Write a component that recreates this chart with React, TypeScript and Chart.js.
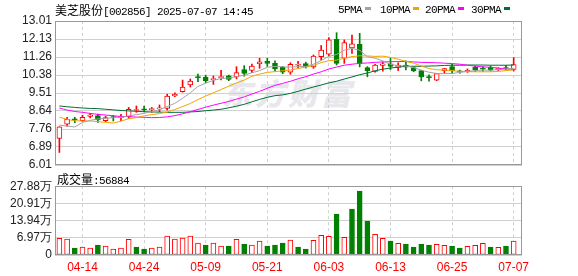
import React, { useEffect, useRef } from "react";
import { Chart, registerables } from "chart.js";

Chart.register(...registerables);

// ---------- data ----------
const dates = [
  "04-09", "04-10", "04-11", "04-14", "04-15", "04-16", "04-17", "04-18", "04-21", "04-22",
  "04-23", "04-24", "04-25", "04-28", "04-29", "04-30", "05-06", "05-07", "05-08", "05-09",
  "05-12", "05-13", "05-14", "05-15", "05-16", "05-19", "05-20", "05-21", "05-22", "05-23",
  "05-26", "05-27", "05-28", "05-29", "05-30", "06-03", "06-04", "06-05", "06-06", "06-09",
  "06-10", "06-11", "06-12", "06-13", "06-16", "06-17", "06-18", "06-19", "06-20", "06-23",
  "06-24", "06-25", "06-26", "06-27", "06-30", "07-01", "07-02", "07-03", "07-04", "07-07",
];
const tickDates = ["04-14", "04-24", "05-09", "05-21", "06-03", "06-13", "06-25", "07-07"];

const open = [
  7.30, 7.99, 8.23, 8.16, 8.37, 8.41, 8.17, 8.34, 8.31, 8.36,
  8.66, 8.74, 8.70, 8.74, 8.76, 9.37, 9.57, 9.90, 10.28, 10.28,
  10.16, 10.26, 10.34, 10.29, 10.65, 10.61, 10.93, 11.05, 10.95, 10.76,
  10.52, 10.86, 10.94, 10.78, 11.27, 11.40, 12.12, 11.20, 11.70, 11.88,
  10.74, 10.56, 10.85, 10.93, 10.75, 10.87, 10.74, 10.60, 10.28, 10.13,
  10.60, 10.79, 10.56, 10.55, 10.77, 10.70, 10.76, 10.64, 10.73, 10.66,
];
const close = [
  7.87, 8.23, 8.21, 8.33, 8.45, 8.20, 8.31, 8.32, 8.33, 8.72,
  8.70, 8.69, 8.72, 8.77, 9.36, 9.45, 9.80, 10.09, 10.26, 10.10,
  10.18, 10.28, 10.17, 10.50, 10.46, 10.82, 11.02, 10.95, 10.68, 10.52,
  10.90, 10.89, 10.78, 11.31, 11.60, 12.09, 10.95, 11.96, 11.90, 10.95,
  10.60, 10.87, 10.93, 10.80, 10.86, 10.76, 10.58, 10.29, 10.26, 10.45,
  10.70, 10.58, 10.54, 10.61, 10.63, 10.67, 10.62, 10.72, 10.70, 10.89,
];
const high = [
  7.87, 8.33, 8.33, 8.43, 8.52, 8.48, 8.39, 8.42, 8.47, 8.81,
  8.88, 8.88, 8.81, 8.93, 9.45, 9.52, 10.14, 10.19, 10.43, 10.38,
  10.34, 10.61, 10.38, 10.79, 10.84, 10.91, 11.20, 11.20, 11.07, 10.80,
  10.98, 11.05, 11.01, 11.36, 11.82, 12.20, 12.44, 12.09, 12.33, 12.41,
  10.79, 10.90, 11.03, 11.20, 10.98, 11.07, 10.78, 10.62, 10.39, 10.46,
  10.71, 10.90, 10.62, 10.68, 10.82, 10.79, 10.83, 10.74, 10.85, 11.23,
];
const low = [
  6.62, 7.90, 8.07, 8.13, 8.30, 8.08, 8.12, 8.15, 8.16, 8.28,
  8.57, 8.60, 8.57, 8.60, 8.68, 9.33, 9.55, 9.80, 10.06, 10.01,
  9.93, 10.14, 10.11, 10.20, 10.33, 10.50, 10.71, 10.80, 10.58, 10.45,
  10.42, 10.74, 10.72, 10.71, 11.11, 11.31, 10.87, 10.95, 11.44, 10.78,
  10.30, 10.52, 10.57, 10.65, 10.60, 10.63, 10.55, 10.10, 10.09, 10.11,
  10.47, 10.46, 10.47, 10.51, 10.55, 10.56, 10.58, 10.60, 10.62, 10.58,
];
const volume = [
  67500, 64700, 28300, 32300, 28300, 40400, 36400, 24200, 28300, 63400,
  32300, 24200, 28300, 32300, 76800, 64700, 68700, 76800, 48500, 40400,
  48500, 36400, 36400, 63400, 44500, 40400, 56600, 36400, 40400, 48500,
  60000, 32300, 24200, 59400, 79600, 75600, 165700, 71500, 185900, 258600,
  137400, 83600, 67500, 56600, 47100, 44500, 32300, 44500, 40400, 43100,
  39200, 36400, 28300, 34900, 39200, 47100, 32300, 31000, 36400, 56884,
];
const ma5 = [
  7.95, 7.90, 7.86, 8.08, 8.18, 8.25, 8.28, 8.31, 8.33, 8.40,
  8.46, 8.52, 8.60, 8.69, 8.85, 9.01, 9.25, 9.52, 9.83, 9.99,
  10.12, 10.22, 10.24, 10.30, 10.38, 10.49, 10.60, 10.76, 10.80, 10.78,
  10.77, 10.79, 10.80, 10.91, 11.09, 11.29, 11.38, 11.59, 11.68, 11.59,
  11.27, 11.20, 11.07, 10.90, 10.84, 10.82, 10.75, 10.62, 10.52, 10.46,
  10.45, 10.46, 10.51, 10.56, 10.60, 10.62, 10.62, 10.65, 10.67, 10.72,
];
const ma10 = [
  8.33, 8.23, 8.16, 8.15, 8.15, 8.12, 8.08, 8.05, 8.14, 8.26,
  8.31, 8.40, 8.46, 8.51, 8.59, 8.71, 8.85, 9.00, 9.19, 9.36,
  9.52, 9.68, 9.84, 10.00, 10.14, 10.32, 10.43, 10.51, 10.55, 10.59,
  10.63, 10.70, 10.77, 10.85, 10.99, 11.08, 11.11, 11.20, 11.28, 11.32,
  11.31, 11.29, 11.30, 11.24, 11.15, 11.05, 10.96, 10.82, 10.70, 10.64,
  10.62, 10.60, 10.56, 10.55, 10.54, 10.54, 10.54, 10.56, 10.60, 10.63,
];
const ma20 = [
  8.78, 8.68, 8.61, 8.57, 8.52, 8.47, 8.44, 8.40, 8.37, 8.36,
  8.34, 8.33, 8.31, 8.32, 8.35, 8.41, 8.50, 8.60, 8.71, 8.82,
  8.92, 9.01, 9.10, 9.21, 9.32, 9.46, 9.59, 9.74, 9.88, 9.98,
  10.08, 10.20, 10.30, 10.43, 10.54, 10.68, 10.77, 10.86, 10.91, 10.95,
  10.97, 11.00, 11.02, 11.03, 11.04, 11.04, 11.02, 11.00, 10.99, 10.98,
  10.96, 10.94, 10.91, 10.86, 10.82, 10.78, 10.76, 10.72, 10.68, 10.66,
];
const ma30 = [
  8.88, 8.84, 8.81, 8.78, 8.76, 8.75, 8.72, 8.69, 8.66, 8.64,
  8.62, 8.60, 8.59, 8.58, 8.57, 8.57, 8.57, 8.59, 8.61, 8.65,
  8.68, 8.72, 8.79, 8.87, 8.96, 9.08, 9.20, 9.30, 9.38, 9.42,
  9.49, 9.59, 9.70, 9.80, 9.90, 10.00, 10.08, 10.19, 10.29, 10.40,
  10.48, 10.59, 10.67, 10.72, 10.77, 10.81, 10.81, 10.81, 10.82, 10.83,
  10.85, 10.86, 10.86, 10.87, 10.87, 10.87, 10.86, 10.86, 10.86, 10.87,
];
const priceTicks = [6.01, 6.89, 7.76, 8.64, 9.51, 10.38, 11.26, 12.13, 13.01];
const volumeTicks = [0, 69700, 139400, 209100, 278800];

const stockName = "美芝股份";
const stockInfo = "[002856] 2025-07-07 14:45";
const volumeName = "成交量";
const volumeInfo = ":56884";
const maNames = ["5PMA", "10PMA", "20PMA", "30PMA"];
const watermark = "东方财富";

// ---------- styles ----------
const RED = "#ff0000";
const GREEN = "#008000";
const MA_COLORS = ["#a3a3a3", "#f2a300", "#ff00ff", "#006f35"];
const GRID = "#d0d0d0";
const FRAME = "#999999";
const X_MIN = -0.57;
const X_MAX = 60.08;
const LEGEND_X = [338, 380, 425, 471];
const LEGEND_MARK_X = [365, 413, 458, 504];

const idx = dates.map((_, i) => i);
const tickIdx = tickDates.map((d) => dates.indexOf(d));

function candleUp(i: number) {
  if (close[i] !== open[i]) return close[i] > open[i];
  return i === 0 || close[i] >= close[i - 1];
}
function volUp(i: number) {
  return i === 0 ? close[0] >= open[0] : close[i] >= close[i - 1];
}

const framePlugin = {
  id: "frame",
  afterDatasetsDraw(chart: any) {
    const { ctx, chartArea: a } = chart;
    ctx.save();
    ctx.strokeStyle = FRAME;
    ctx.lineWidth = 1;
    ctx.strokeRect(
      Math.round(a.left) + 0.5,
      Math.round(a.top) + 0.5,
      Math.round(a.right - a.left) - 1,
      Math.round(a.bottom - a.top) - 1
    );
    ctx.restore();
  },
};

const tickFont = { family: '"Liberation Sans", Arial, sans-serif', size: 12 };

function xScale(showLabels: boolean) {
  return {
    type: "linear",
    min: X_MIN,
    max: X_MAX,
    offset: false,
    afterBuildTicks: (axis: any) => {
      axis.ticks = tickIdx.map((v) => ({ value: v }));
    },
    ticks: {
      display: showLabels,
      autoSkip: false,
      maxRotation: 0,
      padding: 5,
      color: RED,
      font: tickFont,
      callback: (v: any) => dates[v] ?? "",
    },
    grid: { color: GRID, drawTicks: false, lineWidth: 1, offset: false },
    border: { display: false, dash: [3, 3] },
    afterFit: (axis: any) => {
      axis.height = showLabels ? 21 : 0;
    },
  };
}

function yScale(min: number, max: number, ticks: number[], fmt: (v: number) => string) {
  return {
    min,
    max,
    afterBuildTicks: (axis: any) => {
      axis.ticks = ticks.map((v) => ({ value: v }));
    },
    ticks: {
      color: "#222222",
      font: tickFont,
      padding: 3,
      autoSkip: false,
      callback: (v: any) => fmt(Number(v)),
    },
    grid: { color: GRID, drawTicks: false },
    border: { display: false },
    afterFit: (axis: any) => {
      axis.width = 55;
    },
  };
}

export default function App() {
  const priceRef = useRef<HTMLCanvasElement>(null);
  const volRef = useRef<HTMLCanvasElement>(null);

  useEffect(() => {
    const lineSet = (name: string, arr: number[], color: string) => ({
      type: "line",
      label: name,
      data: arr.map((v, i) => ({ x: i, y: v })),
      borderColor: color,
      borderWidth: 1,
      pointRadius: 0,
      tension: 0,
      order: 0,
    });

    const priceChart = new Chart(priceRef.current as HTMLCanvasElement, {
      type: "bar",
      data: {
        datasets: [
          lineSet(maNames[0], ma5, MA_COLORS[0]),
          lineSet(maNames[1], ma10, MA_COLORS[1]),
          lineSet(maNames[2], ma20, MA_COLORS[2]),
          lineSet(maNames[3], ma30, MA_COLORS[3]),
          {
            type: "bar",
            label: "body",
            data: idx.map((i) => ({ x: i, y: [open[i], close[i]] })),
            backgroundColor: idx.map((i) => (candleUp(i) ? "#ffffff" : GREEN)),
            borderColor: idx.map((i) => (candleUp(i) ? RED : GREEN)),
            borderWidth: 1,
            borderSkipped: false,
            barThickness: 5,
            minBarLength: 1,
            grouped: false,
            order: 5,
          },
          {
            type: "bar",
            label: "wick",
            data: idx.map((i) => ({ x: i, y: [low[i], high[i]] })),
            backgroundColor: idx.map((i) => (candleUp(i) ? RED : GREEN)),
            borderWidth: 0,
            barThickness: 1,
            grouped: false,
            order: 6,
          },
        ] as any,
      },
      options: {
        responsive: false,
        animation: false,
        events: [],
        layout: { padding: { left: 0, right: 56, top: 21, bottom: 11 } },
        plugins: { legend: { display: false }, tooltip: { enabled: false } },
        scales: {
          x: xScale(false) as any,
          y: yScale(6.01, 13.01, priceTicks, (v) => v.toFixed(2)) as any,
        },
      },
      plugins: [framePlugin],
    });

    const volChart = new Chart(volRef.current as HTMLCanvasElement, {
      type: "bar",
      data: {
        datasets: [
          {
            label: volumeName,
            data: idx.map((i) => ({ x: i, y: volume[i] })),
            backgroundColor: idx.map((i) => (volUp(i) ? "#ffffff" : GREEN)),
            borderColor: idx.map((i) => (volUp(i) ? RED : GREEN)),
            borderWidth: 1,
            borderSkipped: false,
            barThickness: 5,
            grouped: false,
          },
        ] as any,
      },
      options: {
        responsive: false,
        animation: false,
        events: [],
        layout: { padding: { left: 0, right: 56, top: 10, bottom: 0 } },
        plugins: { legend: { display: false }, tooltip: { enabled: false } },
        scales: {
          x: xScale(true) as any,
          y: yScale(0, volumeTicks[volumeTicks.length - 1], volumeTicks, (v) =>
            v === 0 ? "0" : (v / 10000).toFixed(2) + "万"
          ) as any,
        },
      },
      plugins: [framePlugin],
    });

    return () => {
      priceChart.destroy();
      volChart.destroy();
    };
  }, []);

  const mono: React.CSSProperties = {
    fontFamily: '"Liberation Mono", "DejaVu Sans Mono", monospace',
    fontSize: 11,
    letterSpacing: "-0.6px",
  };
  const cjk: React.CSSProperties = {
    fontFamily: '"Noto Sans CJK SC", sans-serif',
    fontSize: 12,
    letterSpacing: 0,
  };
  const textRow: React.CSSProperties = {
    position: "absolute",
    whiteSpace: "nowrap",
    lineHeight: "14px",
    height: 14,
    color: "#000",
    ...mono,
  };

  return (
    <div
      style={{
        position: "fixed",
        left: 0,
        top: 0,
        width: 578,
        height: 276,
        background: "#ffffff",
        overflow: "hidden",
      }}
    >
      <div
        style={{
          position: "absolute",
          left: 222,
          top: 76,
          fontFamily: '"Noto Sans CJK SC", sans-serif',
          fontSize: 30,
          lineHeight: "32px",
          fontWeight: 900,
          fontStyle: "italic",
          letterSpacing: "3px",
          color: "#e7e7ec",
          whiteSpace: "nowrap",
        }}
      >
        {watermark}
      </div>
      <canvas ref={priceRef} width={578} height={176} style={{ position: "absolute", left: 0, top: 0 }} />
      <canvas ref={volRef} width={578} height={100} style={{ position: "absolute", left: 0, top: 176 }} />
      <div style={{ ...textRow, left: 55, top: 3 }}>
        <span style={cjk}>{stockName}</span>
        <span>{stockInfo}</span>
      </div>
      {maNames.map((n, k) => (
        <React.Fragment key={n}>
          <div style={{ ...textRow, left: LEGEND_X[k], top: 3 }}>{n}</div>
          <div
            style={{
              position: "absolute",
              left: LEGEND_MARK_X[k],
              top: 7,
              width: 6,
              height: 3,
              background: MA_COLORS[k],
            }}
          />
        </React.Fragment>
      ))}
      <div style={{ ...textRow, left: 57, top: 172 }}>
        <span style={cjk}>{volumeName}</span>
        <span>{volumeInfo}</span>
      </div>
    </div>
  );
}
